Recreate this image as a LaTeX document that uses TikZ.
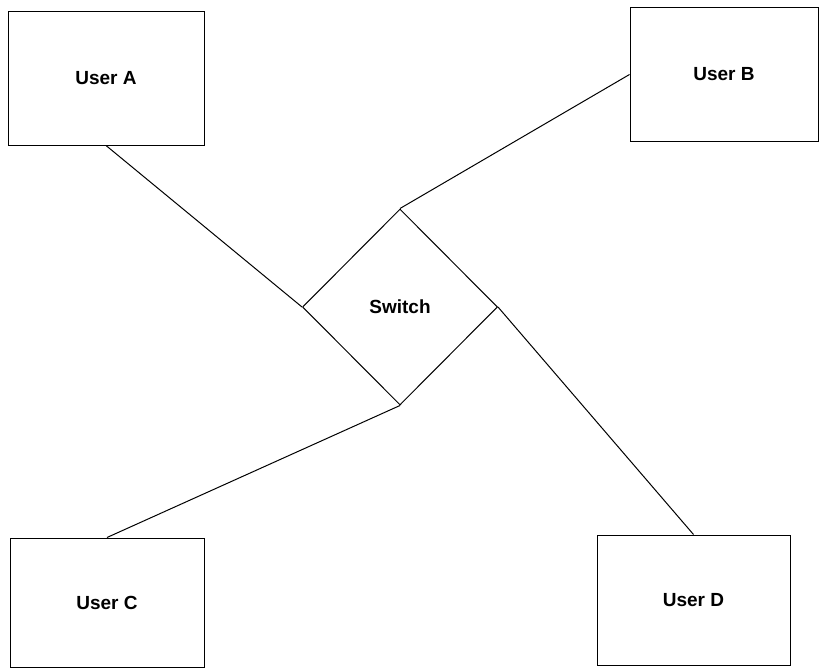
\documentclass[tikz,border=0pt]{standalone}
\usepackage{fontspec}
\setmainfont{Liberation Sans}
\usepackage{tikz}
\usetikzlibrary{shapes.geometric}

\begin{document}
\begin{tikzpicture}[x=1pt,y=-1pt,
	line width=1pt,
	font=\fontsize{19}{22}\selectfont\bfseries,
	user/.style={draw, rectangle, inner sep=0pt},
	switchbox/.style={draw, diamond, aspect=1, inner sep=0pt, minimum width=195pt, minimum height=196pt}]
\useasboundingbox (0,0) rectangle (820,669);
%\node(a)[user]{User A};
\node(a)[user, minimum width=196pt, minimum height=133pt] at (106,78.5) {User A};
\node(b)[user, minimum width=188pt, minimum height=133pt] at (724,74.5) {User B};
\node(c)[user, minimum width=194pt, minimum height=129pt] at (107,602.5) {User C};
\node(d)[user, minimum width=193pt, minimum height=130pt] at (693.5,600) {User D};
\node(sw)[switchbox] at (400,307) {Switch};
\path[-]
(a.south) edge (sw.west)
(b.west) edge (sw.north)
(c.north) edge (sw.south)
(d.north) edge (sw.east)
;
\end{tikzpicture}
\end{document}
